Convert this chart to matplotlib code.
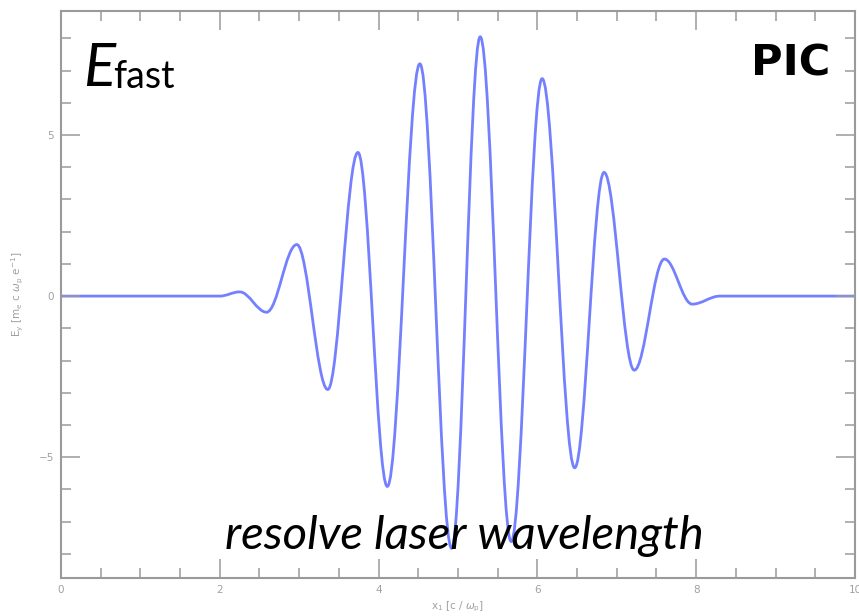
import numpy as np
import matplotlib
matplotlib.use('Agg')
import matplotlib.pyplot as plt
from matplotlib.path import Path
from matplotlib.patches import PathPatch

# turning points of the field E_y along x_1 (flat ends included)
x_pts = [0.0, 2.0, 2.25, 2.59, 2.97, 3.36, 3.74, 4.11, 4.52, 4.92, 5.28,
         5.67, 6.06, 6.47, 6.84, 7.22, 7.60, 7.95, 8.30, 10.0]
y_pts = [0.0, 0.0, 0.13, -0.50, 1.60, -2.90, 4.46, -5.91, 7.21, -7.83, 8.05,
         -7.62, 6.75, -5.33, 3.84, -2.30, 1.15, -0.25, 0.0, 0.0]

xlim = (0, 10)
ylim = (-8.75, 8.85)
xmajor = [0, 2, 4, 6, 8, 10]
ymajor = [-5, 0, 5]

grey = '#9a9a9a'
blue = '#7580ff'

fig = plt.figure(figsize=(8.59, 6.16), dpi=100)
ax = fig.add_axes([0.071, 0.0617, 0.9243, 0.9205])
ax.set_xlim(*xlim)
ax.set_ylim(*ylim)

# smooth curve: cubic segments with flat tangents at each turning point
k = 0.363
verts = [(x_pts[0], y_pts[0])]
codes = [Path.MOVETO]
for i in range(len(x_pts) - 1):
    x0, y0 = x_pts[i], y_pts[i]
    x1, y1 = x_pts[i + 1], y_pts[i + 1]
    dx = x1 - x0
    verts += [(x0 + k * dx, y0), (x1 - k * dx, y1), (x1, y1)]
    codes += [Path.CURVE4] * 3
ax.add_patch(PathPatch(Path(verts, codes), fill=False, edgecolor=blue,
                       lw=2.0, capstyle='round', joinstyle='round'))

# axes frame and ticks
for s in ax.spines.values():
    s.set_color(grey)
    s.set_linewidth(1.5)
ax.set_xticks(xmajor)
ax.set_yticks(ymajor)
ax.set_xticks(np.arange(0, 10.01, 0.5), minor=True)
ax.set_yticks(np.arange(-8, 8.01, 1.0), minor=True)
ax.tick_params(which='both', direction='in', top=True, right=True,
               color=grey, width=1.1, labelcolor='#a0a0a0', labelsize=7.5)
ax.tick_params(which='major', length=14, pad=5)
ax.tick_params(which='minor', length=7)

ax.set_xlabel(r'x$_1$ [c / $\omega_\mathrm{p}$]', fontsize=7.5, color='#a0a0a0',
              labelpad=3)
ax.set_ylabel(r'E$_\mathrm{y}$ [m$_\mathrm{e}$ c $\omega_\mathrm{p}$ e$^{-1}$]',
              fontsize=7.5, color='#a0a0a0', labelpad=9)

# annotations
fig.text(83 / 859, 1 - 86 / 616, 'E', fontsize=43, style='italic',
         family='Lato', color='black', va='baseline', ha='left')
fig.text(113 / 859, 1 - 88 / 616, 'fast', fontsize=27,
         family='Lato', color='black', va='baseline', ha='left')
fig.text(830 / 859, 1 - 75 / 616, 'PIC', fontsize=31, weight='bold',
         family='DejaVu Sans', color='black', va='baseline', ha='right')
fig.text(225 / 859, 1 - 549 / 616, 'resolve laser wavelength', fontsize=34,
         style='italic', family='Lato', color='black', va='baseline',
         ha='left')

fig.savefig('out.png', dpi=100)
